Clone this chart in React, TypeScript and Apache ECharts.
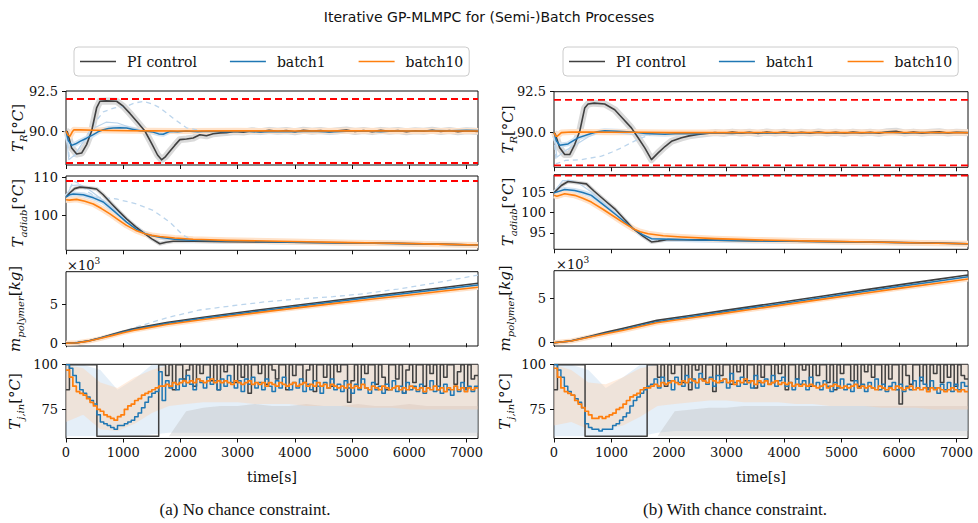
import React, { useEffect, useRef } from "react";
import * as echarts from "echarts";

// ---------- axes ----------
const TIME_MAX = 7200;
const STEP = 60; // controller sampling period [s]
const TIME_TICKS = [0, 1000, 2000, 3000, 4000, 5000, 6000, 7000];
const LEGEND_NAMES = ["PI control", "batch1", "batch10"];
const TR_LIMITS = [88, 92];
const TADIAB_LIMIT = [109];
const TR_TICKS = [90, 92.5];
const TAD_TICKS_A = [100, 110];
const TAD_TICKS_B = [95, 100, 105];
const M_TICKS = [0, 5000];
const TJ_TICKS = [75, 100];

// ---------- (a) no chance constraint ----------
const trPI_a = [[0,90],[23,89.95],[99,88.94],[186,88.56],[273,88.62],[360,89.15],[448,90.0],[535,91.44],[593,91.86],[700,91.88],[884,91.86],[1000,91.55],[1117,91.1],[1250,90.55],[1379,90.0],[1500,89.2],[1600,88.5],[1670,88.2],[1740,88.4],[1815,88.73],[1900,89.1],[1990,89.46],[2106,89.5],[2222,89.56],[2339,89.77],[2455,89.7],[2571,89.83],[2700,89.88],[2804,89.9],[2950,89.97],[3100,89.93],[3250,90.02],[3400,89.96],[3550,90.04],[3700,89.98],[3850,90.03],[4000,89.95],[4150,90.05],[4300,89.99],[4450,90.03],[4600,89.96],[4750,90.02],[4900,90.06],[5050,89.97],[5200,90.03],[5350,89.96],[5500,90.04],[5650,89.98],[5800,90.03],[5950,89.95],[6100,90.02],[6250,89.98],[6400,90.05],[6550,89.97],[6700,90.03],[6850,89.95],[7000,90.02],[7200,89.97]];
const trB1_a = [[0,90],[40,89.4],[99,89.1],[170,89.2],[244,89.35],[360,89.55],[477,89.77],[560,89.95],[651,90.08],[740,90.15],[826,90.19],[940,90.2],[1058,90.19],[1180,90.1],[1291,90.02],[1400,89.98],[1520,89.93],[1620,89.82],[1699,89.8],[1815,89.98],[1950,89.96],[2100,90.0],[2300,89.95],[2500,89.98],[2800,89.95],[3100,89.98],[3400,89.93],[3700,89.97],[4000,89.95],[4300,89.98],[4600,89.94],[4900,89.98],[5200,90.0],[5500,89.96],[5800,90.02],[6100,89.98],[6400,90.03],[6700,90.02],[7000,90.04],[7200,90.03]];
const trB10_a = [[0,90],[35,89.75],[70,89.68],[110,89.95],[140,90.08],[250,90.07],[500,90.05],[800,90.03],[1100,90.02],[1500,90.01],[2000,90.0],[3000,90.01],[4000,90.0],[5000,90.01],[6000,90.0],[7200,90.0]];
const trRun_a = [[0,90],[50,88.2],[150,88.5],[300,89.3],[500,90.2],[700,90.55],[900,90.5],[1100,90.25],[1400,90.0],[1700,89.85],[2000,90.0]];
const trRunDash_a = [[0,89.8],[60,88.35],[150,88.45],[300,89.3],[477,90.4],[652,91.2],[850,91.45],[1058,91.55],[1200,91.75],[1349,91.85],[1500,91.7],[1640,91.45],[1873,90.8],[2106,90.2],[2400,90.0]];

const tadPI_a = [[0,104.8],[60,105.8],[150,107.0],[244,107.4],[400,107.2],[535,106.9],[650,105.4],[800,103.0],[930,101.0],[1058,99.1],[1220,97.0],[1379,95.2],[1500,93.9],[1640,92.6],[1750,93.0],[1873,93.25],[2222,93.25],[2800,93.15],[3500,93.05],[4200,92.95],[5000,92.85],[5800,92.7],[6500,92.5],[7200,92.3]];
const tadB1_a = [[0,104.8],[60,105.4],[128,105.6],[302,105.4],[480,104.6],[651,103.5],[850,101.0],[1058,98.25],[1220,96.5],[1379,95.2],[1500,94.7],[1640,94.3],[1900,93.8],[2222,93.5],[2800,93.3],[3962,93.0],[5000,92.8],[5713,92.7],[6500,92.5],[7200,92.3]];
const tadB10_a = [[0,104.1],[60,104.0],[186,104.2],[330,103.7],[477,103.0],[620,101.8],[768,100.4],[910,98.9],[1058,97.4],[1220,96.1],[1379,95.2],[1500,94.8],[1640,94.5],[1900,94.1],[2222,93.8],[2800,93.5],[3962,93.2],[5000,92.9],[5713,92.75],[6500,92.5],[7200,92.3]];
const tadRun_a = [[0,105],[100,107.8],[250,108.0],[400,106.8],[600,104.5],[800,102.2],[1000,99.8],[1200,97.3],[1400,95.4],[1700,93.9],[2200,93.4]];
const tadRunDash_a = [[0,105],[128,109.0],[250,108.2],[400,106],[535,104.8],[884,104.3],[1233,103.0],[1524,101.3],[1815,98.25],[2048,94.8],[2222,93.5],[2600,93.2]];

const mPI_a = [[0,0],[200,85],[400,320],[593,680],[800,1110],[1000,1530],[1175,1850],[1400,2170],[1757,2660],[2400,3340],[2920,3850],[3600,4490],[4665,5450],[5400,6110],[6000,6640],[6600,7160],[7200,7690]];
const mB1_a = [[0,0],[200,80],[400,300],[593,640],[800,1050],[1000,1450],[1175,1750],[1400,2050],[1757,2530],[2400,3200],[2920,3700],[3600,4330],[4665,5280],[5400,5930],[6000,6450],[6600,6960],[7200,7470]];
const mB10_a = [[0,0],[200,75],[400,280],[593,600],[800,980],[1000,1360],[1175,1650],[1400,1940],[1757,2400],[2400,3050],[2920,3540],[3600,4160],[4665,5090],[5400,5710],[6000,6200],[6600,6700],[7200,7180]];
const mRunDash_a = [[0,0],[400,350],[700,900],[1000,1550],[1349,2350],[1800,3350],[2339,4270],[3000,4900],[3502,5330],[4000,5650],[4665,5980],[5200,6350],[5800,6950],[6500,7800],[7200,8750]];

const tjPI_a = [86,100,100,100,100,100,100,100,100,60,60,60,60,60,60,60,60,60,60,60,60,60,60,60,60,60,60,
  100,100,94,100,86,100,100,92,97,100,88,100,95,100,100,91,100,86,100,96,100,100,90,100,93,100,84,100,100,95,
  100,89,100,97,92,100,100,86,100,94,100,100,90,97,100,85,100,100,93,100,88,100,96,100,100,79,91,100,87,100,
  95,100,100,89,100,93,86,100,100,92,100,84,97,100,90,100,100,88,100,95,100,86,100,93,100,100,89,96,100,87,100,92,94];
const tjB1_a = [100,98,94,90,86,84,82,80,78,72,68,67,66,65,64,66,66,67,68,69,71,73,76,79,82,84,85,96,80,91,
  87,90,86,92,88,94,89,86,92,90,87,93,89,91,86,92,88,94,90,87,91,85,92,89,93,87,90,86,92,88,
  85,91,87,93,88,86,90,87,92,85,89,86,91,88,84,90,87,92,86,89,85,91,87,84,89,86,92,87,84,90,
  86,88,84,89,86,91,85,88,84,90,86,88,85,89,84,87,91,85,88,84,89,86,83,88,85,90,86,88,85,88];
const tjB10_a = [97,93,88,85,84,83,81,79,77,75,74,72,71,70,69,71,72,75,77,78,80,81,83,84,85,86,87,88,88,89,
  88,90,89,90,91,90,91,90,92,91,90,91,92,90,91,90,91,90,89,91,90,89,90,91,89,90,89,90,88,90,
  89,88,90,89,88,89,90,88,89,90,88,89,88,90,88,89,87,89,88,87,88,87,89,87,88,87,89,87,86,88,
  87,86,88,87,86,87,88,86,87,86,88,87,86,87,85,87,86,88,86,87,85,87,86,88,86,87,85,87,86,87];

// envelopes of the remaining batches (every 300 s)
const BAND_T = [0,300,600,900,1200,1500,1800,2100,2400,2700,3000,3300,3600,3900,4200,4500,4800,5100,5400,5700,6000,6300,6600,6900,7200];
const tjBlueLo_a = [60,60,60,60,60,61,62,62,62,62,62,62,62,62,62,62,62,62,62,62,62,62,62,62,62];
const tjBlueHi_a = [100,100,97,86,92,100,100,100,100,100,100,100,100,100,100,100,100,100,100,100,100,100,100,100,100];
const tjGrayHi_a = [60,60,60,60,60,60,60,74,76,77,77,78,77,77,78,77,77,78,77,77,78,77,77,77,77];
const tjOrangeLo_a = [68,72,64,63,67,73,77,78,79,79,79,78,78,78,77,77,77,76,76,76,75,75,75,75,75];
const tjOrangeHi_a = [100,98,90,87,93,97,100,100,100,100,100,100,100,100,100,100,100,100,100,100,100,100,100,100,100];

// ---------- (b) with chance constraint ----------
const trPI_b = [[0,90],[23,89.9],[99,89.07],[186,88.66],[273,88.66],[360,89.27],[447,90.08],[534,91.5],[592,91.75],[700,91.8],[882,91.75],[1056,91.4],[1200,90.85],[1346,90.29],[1460,89.7],[1579,89.07],[1695,88.35],[1811,88.76],[1930,89.15],[2043,89.47],[2217,89.68],[2350,89.8],[2507,89.88],[2650,89.95],[2798,90.0],[2950,89.96],[3100,90.03],[3250,89.97],[3400,90.02],[3550,89.95],[3700,90.04],[3850,89.98],[4000,90.03],[4150,89.96],[4300,90.02],[4450,89.97],[4600,90.04],[4750,89.98],[4900,90.02],[5050,89.96],[5200,90.03],[5350,89.98],[5500,90.02],[5650,89.96],[5800,90.05],[5950,90.08],[6100,89.98],[6250,90.03],[6400,89.97],[6550,90.02],[6700,90.05],[6850,89.98],[7000,90.02],[7200,89.99]];
const trB1_b = [[0,90],[40,89.5],[99,89.23],[244,89.31],[418,89.68],[592,89.88],[750,90.05],[882,90.12],[1100,90.08],[1346,90.03],[1600,89.95],[1927,89.9],[2200,89.95],[2500,89.93],[2800,89.98],[3100,89.95],[3400,90.0],[3700,89.96],[4000,90.0],[4300,89.97],[4600,90.0],[4900,89.96],[5200,90.0],[5500,89.97],[5800,90.02],[6100,89.98],[6400,90.0],[6700,89.97],[7000,90.01],[7200,90.0]];
const trB10_b = [[0,90],[30,89.78],[58,89.78],[128,90.0],[300,90.04],[600,90.03],[1000,90.02],[1500,90.02],[2000,90.0],[3000,90.0],[4000,90.01],[5000,90.0],[6000,90.01],[7200,90.0]];
const trRun_b = [[0,90],[50,88.5],[200,88.9],[400,89.3],[600,89.75],[800,90.05],[1100,90.0],[1500,89.85],[2000,89.95]];
const trRunDash_b = [[0,89.8],[40,88.1],[200,88.3],[476,88.35],[824,88.56],[1000,88.8],[1172,89.07],[1350,89.4],[1521,89.68],[1700,89.9],[1911,90.0]];

const tadPI_b = [[0,104.8],[128,106.6],[244,107.6],[420,107.3],[563,107.0],[700,105.2],[880,103.0],[1056,100.9],[1220,98.4],[1376,96.05],[1540,94.3],[1695,92.8],[1811,93.0],[1985,93.4],[2500,93.3],[3500,93.1],[4500,92.95],[5500,92.8],[6400,92.6],[7200,92.35]];
const tadB1_b = [[0,104.8],[186,105.65],[360,105.4],[500,104.9],[650,104.2],[850,102.0],[1056,99.7],[1220,97.8],[1376,96.05],[1540,94.6],[1695,93.6],[2000,93.45],[2500,93.3],[3500,93.05],[4500,92.9],[5500,92.75],[6400,92.55],[7200,92.35]];
const tadB10_b = [[0,104.2],[50,104.0],[186,104.6],[360,104.2],[500,103.5],[650,102.55],[850,100.8],[1056,98.9],[1220,97.4],[1376,96.05],[1500,95.3],[1637,94.8],[1900,94.3],[2217,94.0],[2800,93.6],[3500,93.3],[4500,93.0],[5500,92.8],[6400,92.55],[7200,92.35]];
const tadRun_b = [[0,105],[150,107.8],[300,107.8],[450,107.0],[650,105.0],[850,102.5],[1050,100.0],[1250,97.5],[1450,95.2],[1700,93.7],[2200,93.4]];

const mPI_b = [[0,0],[300,210],[627,720],[900,1160],[1208,1620],[1500,2080],[1788,2510],[2400,3090],[2943,3610],[3600,4230],[4684,5260],[5400,5940],[6000,6510],[6600,7070],[7200,7620]];
const mB1_b = [[0,0],[300,200],[627,680],[900,1080],[1208,1500],[1500,1950],[1788,2370],[2400,2940],[2943,3450],[3600,4060],[4684,5080],[5400,5750],[6000,6310],[6600,6870],[7200,7430]];
const mB10_b = [[0,0],[300,190],[627,640],[900,1000],[1208,1400],[1500,1830],[1788,2240],[2400,2800],[2943,3300],[3600,3900],[4684,4900],[5400,5560],[6000,6110],[6600,6640],[7200,7170]];

const tjPI_b = [86,100,100,100,100,100,100,100,100,60,60,60,60,60,60,60,60,60,60,60,60,60,60,60,60,60,60,
  100,100,100,93,100,88,100,95,100,100,90,100,86,100,97,100,92,100,100,85,100,94,100,100,89,100,96,100,91,100,
  100,87,100,93,100,100,90,100,95,100,86,100,100,92,100,97,100,88,100,94,100,100,90,100,86,100,95,100,100,91,
  100,88,100,96,100,93,100,100,87,100,92,100,100,78,100,94,89,100,100,91,100,87,100,95,100,90,100,93,100,88,100,94,92];
const tjB1_b = [100,97,93,88,85,83,81,79,76,67,65,64,64,63,64,64,64,66,67,69,71,73,77,80,82,84,86,88,89,92,
  87,93,89,91,86,93,90,88,94,90,92,87,95,91,89,93,88,94,90,92,87,95,90,88,93,89,91,87,94,90,
  88,92,89,94,88,91,93,88,90,86,92,89,91,86,93,88,90,86,91,88,85,90,87,92,86,89,85,91,87,89,
  85,90,87,92,86,89,85,88,90,86,89,85,88,86,91,87,93,89,86,91,87,84,89,86,90,85,89,86,90,88];
const tjB10_b = [98,93,87,85,84,83,80,78,76,74,72,70,70,71,70,71,72,73,75,76,78,80,82,83,84,86,87,87,88,89,
  88,90,89,90,91,90,89,91,90,92,91,90,92,91,90,92,91,90,91,92,90,91,89,91,90,92,90,91,89,91,
  90,91,89,90,91,89,90,89,90,88,89,88,89,88,89,88,87,88,89,87,88,89,88,87,88,87,88,89,87,88,
  87,88,87,86,88,87,86,87,86,88,87,86,87,88,86,87,86,87,85,87,86,87,86,85,86,87,86,85,86,85];

const tjBlueLo_b = [60,60,60,60,60,60,62,63,63,63,63,63,63,63,63,63,63,63,63,63,63,63,63,63,63];
const tjBlueHi_b = [100,100,97,87,93,100,100,100,100,100,100,100,100,100,100,100,100,100,100,100,100,100,100,100,100];
const tjGrayHi_b = [60,60,60,60,60,60,60,74,75,76,76,77,77,77,77,77,77,77,77,77,77,77,77,77,77];
const tjOrangeLo_b = [66,68,64,64,66,71,77,78,79,80,80,79,79,79,78,78,77,77,77,76,76,76,75,75,75];
const tjOrangeHi_b = [100,97,90,89,93,98,100,100,100,100,100,100,100,100,100,100,100,100,100,100,100,100,100,100,100];

// ---------- styling ----------
const SERIF = "'DejaVu Serif', serif";
const C_PI = "#404040";
const C_B1 = "#1f77b4";
const C_B10 = "#ff7f0e";
const F_PI = "#dadada";
const F_B1 = "#d3e3f2";
const F_B10 = "#ffe2c9";
const RUN_B1 = "#bcd5ec";
const RED = "#ff0000";

const stepPairs = (vals: number[]) => {
  const pts = vals.map((v, i) => [i * STEP, v]);
  pts.push([TIME_MAX, vals[vals.length - 1]]);
  return pts;
};

function line(p: number, name: string, data: number[][], color: string, width: number, opts: any = {}) {
  return {
    type: "line",
    name,
    xAxisIndex: p,
    yAxisIndex: p,
    data,
    symbol: "none",
    showSymbol: false,
    silent: true,
    step: opts.step || false,
    emphasis: { disabled: true },
    itemStyle: { color },
    lineStyle: { color, width, type: opts.dash || "solid", opacity: opts.opacity ?? 1, cap: "butt", join: "round" },
  };
}

// filled envelope between two boundary curves, drawn as one polygon
function band(p: number, lo: number[], hi: number[], color: string) {
  const data = BAND_T.map((t, i) => [t, lo[i], hi[i]]);
  return {
    type: "custom",
    xAxisIndex: p,
    yAxisIndex: p,
    silent: true,
    data,
    encode: { x: 0, y: [1, 2] },
    renderItem: (params: any, api: any) => {
      if (params.dataIndex !== 0) return null;
      const upper = data.map((d) => api.coord([d[0], d[2]]));
      const lower = data.map((d) => api.coord([d[0], d[1]])).reverse();
      return { type: "polygon", shape: { points: upper.concat(lower) }, style: { fill: color } };
    },
  };
}

function limits(p: number, vals: number[]) {
  return vals.map((v) => line(p, "limit", [[0, v], [TIME_MAX, v]], RED, 1.8, { dash: [7, 4] }));
}

const yRich = {
  i: { fontFamily: SERIF, fontStyle: "italic", fontSize: 15, fill: "#111" },
  n: { fontFamily: SERIF, fontSize: 15, fill: "#111" },
  s: { fontFamily: SERIF, fontStyle: "italic", fontSize: 10, fill: "#111", padding: [10, 0, 0, 0] },
};
const LBL_TR = "{i|T}{s|R}{n|[°}{i|C}{n|]}";
const LBL_TAD = "{i|T}{s|adiab}{n|[°}{i|C}{n|]}";
const LBL_M = "{i|m}{s|polymer}{n|[}{i|kg}{n|]}";
const LBL_TJ = "{i|T}{s|j,in}{n|[°}{i|C}{n|]}";

const f1 = (v: number) => v.toFixed(1);
const f0 = (v: number) => String(v);
const fk = (v: number) => String(v / 1000);

const PANELS = [
  { left: 66, top: 91, width: 412, height: 74, min: 87.875, max: 92.5, ticks: TR_TICKS, fmt: f1, label: LBL_TR, lx: 18 },
  { left: 66, top: 176, width: 412, height: 74.3, min: 90.9, max: 110.3, ticks: TAD_TICKS_A, fmt: f0, label: LBL_TAD, lx: 18 },
  { left: 66, top: 271.7, width: 412, height: 74.3, min: -350, max: 9180, ticks: M_TICKS, fmt: fk, label: LBL_M, lx: 15 },
  { left: 66, top: 364.3, width: 412, height: 74.2, min: 58.8, max: 100.2, ticks: TJ_TICKS, fmt: f0, label: LBL_TJ, lx: 15, bottom: true },
  { left: 554, top: 91.7, width: 414, height: 75.6, min: 87.88, max: 92.5, ticks: TR_TICKS, fmt: f1, label: LBL_TR, lx: 508 },
  { left: 554, top: 174.7, width: 414, height: 74.6, min: 91.0, max: 109.25, ticks: TAD_TICKS_B, fmt: f0, label: LBL_TAD, lx: 508 },
  { left: 554, top: 270.7, width: 414, height: 75.3, min: -370, max: 8100, ticks: M_TICKS, fmt: fk, label: LBL_M, lx: 505 },
  { left: 554, top: 364.3, width: 414, height: 74.2, min: 58.8, max: 100.2, ticks: TJ_TICKS, fmt: f0, label: LBL_TJ, lx: 505, bottom: true },
];

function columnSeries(b: number, d: any) {
  const s: any[] = [];
  // reactor temperature
  s.push(line(b, "PI runs", d.trPI, F_PI, 7));
  s.push(line(b, "batch1 runs", d.trB1, F_B1, 5));
  s.push(line(b, "batch10 runs", d.trB10, F_B10, 6));
  s.push(line(b, "batch run", d.trRun, RUN_B1, 1.2));
  s.push(line(b, "batch run dashed", d.trRunDash, RUN_B1, 1.3, { dash: [5, 4] }));
  s.push(line(b, "PI control", d.trPI, C_PI, 1.6));
  s.push(line(b, "batch1", d.trB1, C_B1, 1.5));
  s.push(line(b, "batch10", d.trB10, C_B10, 1.6));
  s.push(...limits(b, TR_LIMITS));
  // adiabatic temperature
  s.push(line(b + 1, "PI runs", d.tadPI, F_PI, 4));
  s.push(line(b + 1, "batch1 runs", d.tadB1, F_B1, 5));
  s.push(line(b + 1, "batch10 runs", d.tadB10, F_B10, 6));
  s.push(line(b + 1, "batch run", d.tadRun, RUN_B1, 1.2));
  if (d.tadRunDash) s.push(line(b + 1, "batch run dashed", d.tadRunDash, RUN_B1, 1.3, { dash: [5, 4] }));
  s.push(line(b + 1, "PI control", d.tadPI, C_PI, 1.6));
  s.push(line(b + 1, "batch1", d.tadB1, C_B1, 1.5));
  s.push(line(b + 1, "batch10", d.tadB10, C_B10, 1.6));
  s.push(...limits(b + 1, TADIAB_LIMIT));
  // polymer mass
  s.push(line(b + 2, "batch10 runs", d.mB10, F_B10, 5));
  if (d.mRunDash) s.push(line(b + 2, "batch run dashed", d.mRunDash, RUN_B1, 1.3, { dash: [5, 4] }));
  s.push(line(b + 2, "PI control", d.mPI, C_PI, 1.6));
  s.push(line(b + 2, "batch1", d.mB1, C_B1, 1.5));
  s.push(line(b + 2, "batch10", d.mB10, C_B10, 1.6));
  // jacket inlet temperature
  s.push(band(b + 3, d.blueLo, d.blueHi, "rgba(175,205,234,0.32)"));
  s.push(band(b + 3, d.grayLo, d.grayHi, "rgba(190,190,190,0.38)"));
  s.push(band(b + 3, d.orangeLo, d.orangeHi, "rgba(255,205,165,0.36)"));
  s.push(line(b + 3, "PI control", stepPairs(d.tjPI), C_PI, 1.5, { step: "end" }));
  s.push(line(b + 3, "batch1", stepPairs(d.tjB1), C_B1, 1.5, { step: "end" }));
  s.push(line(b + 3, "batch10", stepPairs(d.tjB10), C_B10, 1.7, { step: "end" }));
  return s;
}

const FLOOR = BAND_T.map(() => 60);

const seriesA = columnSeries(0, {
  trPI: trPI_a, trB1: trB1_a, trB10: trB10_a, trRun: trRun_a, trRunDash: trRunDash_a,
  tadPI: tadPI_a, tadB1: tadB1_a, tadB10: tadB10_a, tadRun: tadRun_a, tadRunDash: tadRunDash_a,
  mPI: mPI_a, mB1: mB1_a, mB10: mB10_a, mRunDash: mRunDash_a,
  tjPI: tjPI_a, tjB1: tjB1_a, tjB10: tjB10_a,
  blueLo: tjBlueLo_a, blueHi: tjBlueHi_a, grayLo: FLOOR, grayHi: tjGrayHi_a, orangeLo: tjOrangeLo_a, orangeHi: tjOrangeHi_a,
});
const seriesB = columnSeries(4, {
  trPI: trPI_b, trB1: trB1_b, trB10: trB10_b, trRun: trRun_b, trRunDash: trRunDash_b,
  tadPI: tadPI_b, tadB1: tadB1_b, tadB10: tadB10_b, tadRun: tadRun_b,
  mPI: mPI_b, mB1: mB1_b, mB10: mB10_b,
  tjPI: tjPI_b, tjB1: tjB1_b, tjB10: tjB10_b,
  blueLo: tjBlueLo_b, blueHi: tjBlueHi_b, grayLo: FLOOR, grayHi: tjGrayHi_b, orangeLo: tjOrangeLo_b, orangeHi: tjOrangeHi_b,
});

function legendAt(left: number) {
  return {
    data: LEGEND_NAMES,
    left,
    top: 47,
    orient: "horizontal",
    icon: "rect",
    itemWidth: 36,
    itemHeight: 1.6,
    itemGap: 33,
    padding: [6, 6, 6, 6],
    borderColor: "#cccccc",
    borderWidth: 1,
    borderRadius: 4,
    selectedMode: false,
    textStyle: { fontFamily: SERIF, fontSize: 14, color: "#111", padding: [0, 0, 0, 6], lineHeight: 17 },
  };
}

function buildOption() {
  const grid = PANELS.map((p) => ({
    left: p.left, top: p.top, width: p.width, height: p.height,
    show: true, borderColor: "#111", borderWidth: 1, backgroundColor: "transparent",
    containLabel: false, outerBoundsMode: "none",
  }));
  const xAxis = PANELS.map((p, i) => ({
    gridIndex: i, type: "value", min: 0, max: TIME_MAX,
    axisLine: { show: false }, splitLine: { show: false },
    axisTick: { show: true, length: 4, customValues: TIME_TICKS, lineStyle: { color: "#111" } },
    axisLabel: {
      show: !!p.bottom, customValues: TIME_TICKS, margin: 7, formatter: f0,
      fontFamily: SERIF, fontSize: 13, color: "#111",
    },
    name: p.bottom ? "time[s]" : "",
    nameLocation: "middle", nameGap: 31,
    nameTextStyle: { fontFamily: SERIF, fontSize: 14, color: "#111" },
  }));
  const yAxis = PANELS.map((p, i) => ({
    gridIndex: i, type: "value", min: p.min, max: p.max,
    axisLine: { show: false }, splitLine: { show: false },
    axisTick: { show: true, length: 4, customValues: p.ticks, lineStyle: { color: "#111" } },
    axisLabel: {
      customValues: p.ticks, formatter: p.fmt, margin: 8,
      fontFamily: SERIF, fontSize: 13, color: "#111",
    },
  }));
  const graphic: any[] = PANELS.map((p) => ({
    type: "text",
    x: p.lx,
    y: p.top + p.height / 2,
    rotation: Math.PI / 2,
    silent: true,
    style: { text: p.label, rich: yRich, align: "center", verticalAlign: "middle" },
  }));
  const sciRich = {
    n: { fontFamily: SERIF, fontSize: 13, fill: "#111" },
    sup: { fontFamily: SERIF, fontSize: 9, fill: "#111", padding: [0, 0, 8, 0] },
  };
  graphic.push(
    { type: "text", x: 67, y: 265, silent: true, style: { text: "{n|×10}{sup|3}", rich: sciRich, align: "left", verticalAlign: "middle" } },
    { type: "text", x: 556, y: 264, silent: true, style: { text: "{n|×10}{sup|3}", rich: sciRich, align: "left", verticalAlign: "middle" } },
    { type: "text", x: 245, y: 509, silent: true, style: { text: "(a) No chance constraint.", fontFamily: "'Liberation Serif', serif", fontSize: 17, fill: "#111", align: "center", verticalAlign: "middle" } },
    { type: "text", x: 735, y: 509, silent: true, style: { text: "(b) With chance constraint.", fontFamily: "'Liberation Serif', serif", fontSize: 17, fill: "#111", align: "center", verticalAlign: "middle" } },
  );
  return {
    animation: false,
    backgroundColor: "#ffffff",
    textStyle: { fontFamily: SERIF },
    title: {
      text: "Iterative GP-MLMPC for (Semi-)Batch Processes",
      left: "center", top: 5,
      textStyle: { fontFamily: "'DejaVu Sans', sans-serif", fontSize: 14, fontWeight: "normal", color: "#111" },
    },
    legend: [legendAt(74), legendAt(563)],
    grid, xAxis, yAxis, graphic,
    series: [...seriesA, ...seriesB],
  };
}

export default function App() {
  const ref = useRef<HTMLDivElement>(null);
  useEffect(() => {
    if (!ref.current) return;
    const chart = echarts.init(ref.current, null, { renderer: "svg" });
    chart.setOption(buildOption() as any);
    return () => chart.dispose();
  }, []);
  return (
    <div
      ref={ref}
      style={{ position: "fixed", left: 0, top: 0, width: 978, height: 523, background: "#fff" }}
    />
  );
}
